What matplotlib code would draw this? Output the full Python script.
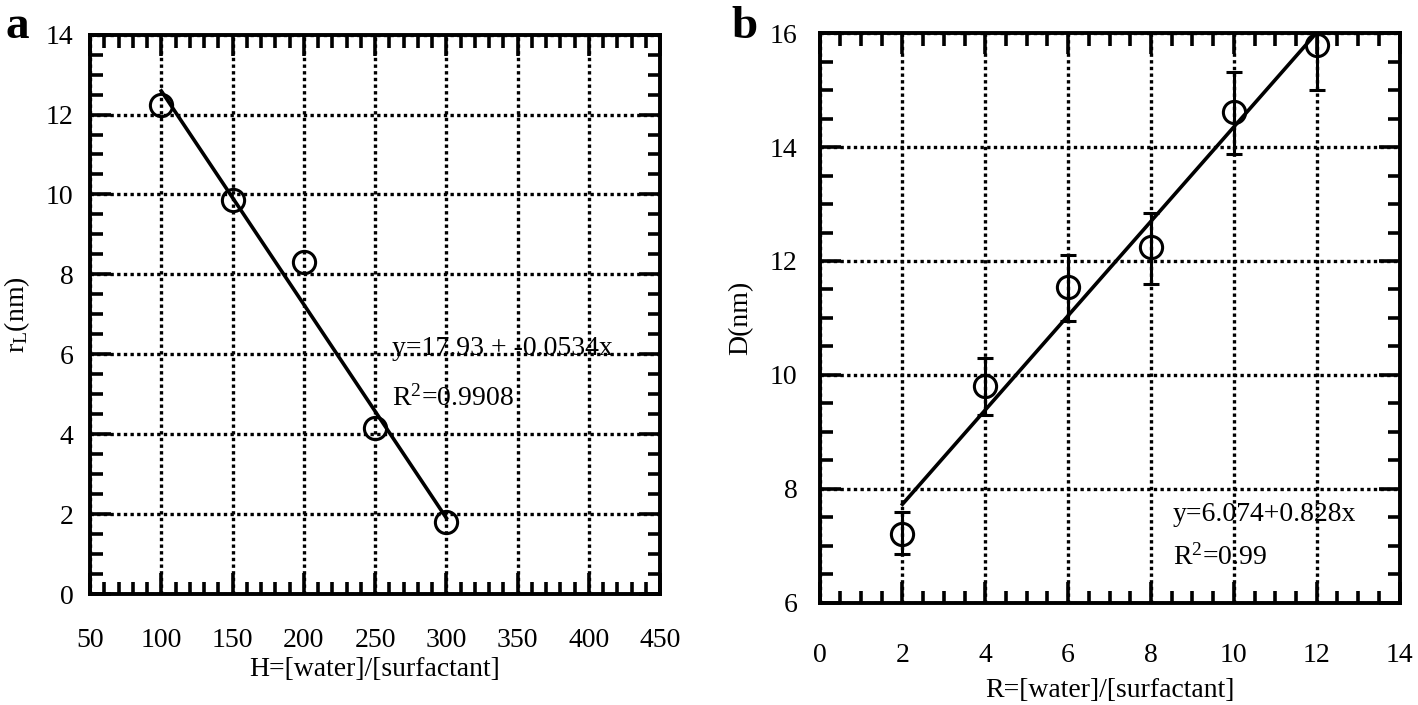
import matplotlib
matplotlib.use("Agg")
import numpy as np
import matplotlib.pyplot as plt
from matplotlib.ticker import MultipleLocator

plt.rcParams['font.family'] = ['Liberation Serif', 'DejaVu Serif']
plt.rcParams['mathtext.fontset'] = 'custom'
plt.rcParams['mathtext.rm'] = 'Liberation Serif'
plt.rcParams['mathtext.it'] = 'Liberation Serif'

# Panel a data
h_vals = [100, 150, 200, 250, 300]
rl_vals = [12.25, 9.85, 8.3, 4.15, 1.8]
fit_a = (17.93, -0.0534)

# Panel b data
r_vals = [2, 4, 6, 8, 10, 12]
d_vals = [7.2, 9.8, 11.55, 12.25, 14.62, 15.8]
d_err_lo = [0.35, 0.5, 0.6, 0.65, 0.75, 0.8]
d_err_hi = [0.4, 0.5, 0.55, 0.6, 0.7, 0.8]
fit_b = (6.074, 0.828)

fs = 20

fig = plt.figure(figsize=(14.18, 7.05), dpi=100)
ax1 = fig.add_axes([0.0635, 0.157, 0.402, 0.794])
ax2 = fig.add_axes([0.578, 0.145, 0.409, 0.808])

grid_style = dict(color='black', linestyle=(0, (1, 1.0)), linewidth=2.4)


def style_axis(ax):
    for s in ax.spines.values():
        s.set_linewidth(2.8)
    ax.tick_params(which='both', direction='in', top=True, right=True,
                   width=2.6, labelsize=fs)
    ax.tick_params(which='major', length=15)
    ax.tick_params(which='minor', length=9)
    ax.grid(True, which='major', **grid_style)
    ax.set_axisbelow(True)


# panel a
ax1.plot(h_vals, rl_vals, 'o', mfc='none', mec='black', ms=16, mew=2.2, zorder=3)
xa = np.array([h_vals[0], h_vals[-1]])
ax1.plot(xa, fit_a[0] + fit_a[1] * xa, color='black', lw=2.6, zorder=3)
ax1.set_xlim(50, 450)
ax1.set_ylim(0, 14)
ax1.xaxis.set_major_locator(MultipleLocator(50))
ax1.xaxis.set_minor_locator(MultipleLocator(10))
ax1.yaxis.set_major_locator(MultipleLocator(2))
ax1.yaxis.set_minor_locator(MultipleLocator(0.5))
style_axis(ax1)
ax1.tick_params(axis='x', pad=24)
ax1.tick_params(axis='y', pad=12)
ax1.set_xlabel('H=[water]/[surfactant]', fontsize=fs, labelpad=3)
ax1.set_ylabel(r'r$_\mathregular{L}$(nm)', fontsize=fs, labelpad=10)
ax1.text(262, 6.15, 'y=17.93 + -0.0534x', fontsize=fs, va='center', zorder=4)
ax1.text(262, 4.9, r'R$^\mathregular{2}$=0.9908', fontsize=fs, va='center', zorder=4)
fig.text(0.004, 0.962, 'a', fontsize=34, fontweight='bold', va='center')

# panel b
ax2.errorbar(r_vals, d_vals, yerr=[d_err_lo, d_err_hi], fmt='o', mfc='none',
             mec='black', ecolor='black', ms=16, mew=2.2, elinewidth=2.2,
             capsize=6, capthick=2.2, zorder=3)
xb = np.array([r_vals[0], r_vals[-1]])
ax2.plot(xb, fit_b[0] + fit_b[1] * xb, color='black', lw=2.6, zorder=3)
ax2.set_xlim(0, 14)
ax2.set_ylim(6, 16)
ax2.xaxis.set_major_locator(MultipleLocator(2))
ax2.xaxis.set_minor_locator(MultipleLocator(0.5))
ax2.yaxis.set_major_locator(MultipleLocator(2))
ax2.yaxis.set_minor_locator(MultipleLocator(0.5))
style_axis(ax2)
ax2.tick_params(axis='x', pad=29)
ax2.tick_params(axis='y', pad=16)
ax2.set_xlabel('R=[water]/[surfactant]', fontsize=fs, labelpad=7)
ax2.set_ylabel('D(nm)', fontsize=fs, labelpad=12)
ax2.text(8.52, 7.55, 'y=6.074+0.828x', fontsize=fs, va='center', zorder=4)
ax2.text(8.52, 6.8, r'R$^\mathregular{2}$=0.99', fontsize=fs, va='center', zorder=4)
fig.text(0.516, 0.962, 'b', fontsize=34, fontweight='bold', va='center')

fig.savefig('out.png', dpi=100)
